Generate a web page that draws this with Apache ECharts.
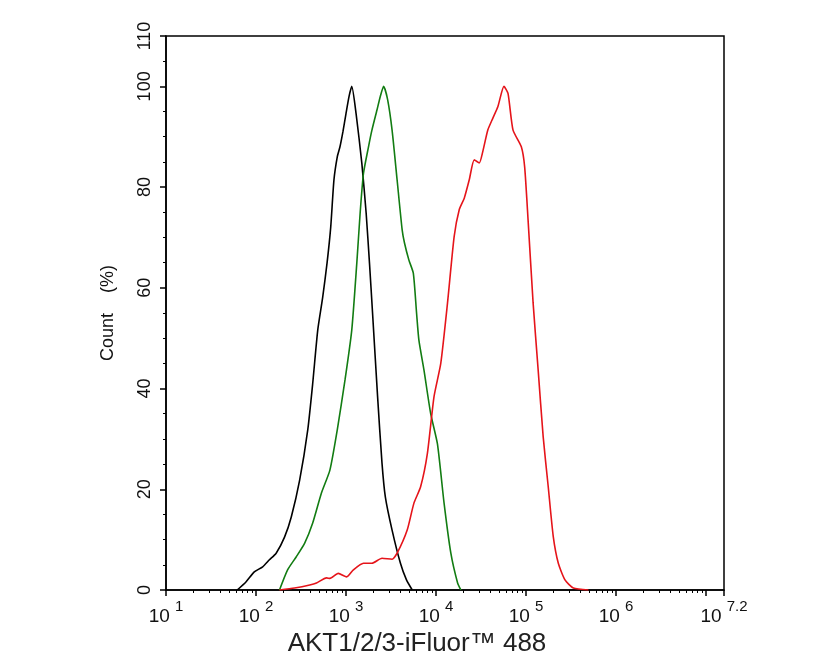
<!DOCTYPE html>
<html>
<head>
    <meta charset="utf-8">
    <title>AKT1/2/3 flow histogram</title>
    <script src="https://cdn.jsdelivr.net/npm/echarts@6/dist/echarts.min.js"></script>
    <style>
        html, body { margin: 0; padding: 0; background: #fff; }
    </style>
</head>
<body>
    <div id="main" style="width: 835px;height:668px;"></div>
    <script type="text/javascript">
        // x values are log10 of fluorescence intensity, y is count (%)
        var blackX = [1.791, 1.888, 1.981, 2.074, 2.149, 2.224, 2.317, 2.392, 2.485, 2.575, 2.630, 2.686, 2.740, 2.790, 2.830, 2.866, 2.903, 2.933, 2.966, 3.000, 3.034, 3.064, 3.112, 3.176, 3.224, 3.261, 3.295, 3.351, 3.400, 3.437, 3.512, 3.605, 3.672, 3.736];
        var blackY = [0, 1.6, 3.6, 4.6, 6, 7.3, 10.5, 14.5, 21.8, 31.8, 41, 51.6, 58, 65, 72, 81.4, 86, 88, 91, 94.6, 98, 100, 94.6, 84.7, 74.8, 64.9, 55, 38.4, 25.2, 18.5, 11.9, 5.3, 2, 0];

        var greenX = [2.261, 2.351, 2.448, 2.541, 2.630, 2.728, 2.821, 2.903, 2.989, 3.064, 3.120, 3.157, 3.194, 3.250, 3.288, 3.344, 3.381, 3.418, 3.463, 3.512, 3.568, 3.624, 3.650, 3.699, 3.748, 3.784, 3.810, 3.866, 3.941, 4.016, 4.090, 4.165, 4.240, 4.277];
        var greenY = [0, 4, 6.6, 9.3, 13.3, 19.3, 23.8, 31.8, 41.7, 51.6, 64.9, 74.8, 82.7, 88, 91.3, 95.3, 98, 100, 97.3, 91.3, 81.4, 71.5, 68.9, 65.5, 62.9, 55, 49.6, 43.7, 35, 29, 17.2, 7.3, 1.4, 0];

        var redX = [2.261, 2.429, 2.597, 2.672, 2.784, 2.821, 2.914, 3.008, 3.082, 3.194, 3.288, 3.400, 3.512, 3.568, 3.680, 3.754, 3.829, 3.904, 3.978, 4.053, 4.128, 4.202, 4.258, 4.314, 4.369, 4.425, 4.481, 4.519, 4.575, 4.632, 4.688, 4.755, 4.800, 4.856, 4.948, 4.985, 5.023, 5.079, 5.135, 5.191, 5.247, 5.303, 5.359, 5.433, 5.526, 5.694];
        var redY = [0, 0.4, 1, 1.4, 2.4, 2.3, 3.3, 2.6, 4, 5.3, 5.3, 6.3, 6.1, 7.3, 11.9, 17.2, 20.5, 27.1, 38.4, 45, 57, 70.2, 75.5, 77.8, 81.4, 85.4, 84.8, 87, 91.3, 93.7, 96, 100, 98.6, 91.3, 88, 84, 73.5, 57, 43.7, 30.4, 20.5, 10.6, 5.3, 2, 0.4, 0];

        var xMajorTicks = [1, 2, 3, 4, 5, 6, 7, 7.2];
        var xLabelValues = [1, 2, 3, 4, 5, 6, 7.2];
        var yMajorTicks = [0, 20, 40, 60, 80, 100, 110];
        var yMinorTicks = [5, 10, 15, 25, 30, 35, 45, 50, 55, 65, 70, 75, 85, 90, 95, 105];

        // minor log ticks: 2..9 x 10^n inside the axis range
        var xMinorTicks = [];
        for (var n = 1; n < 8; n++) {
            for (var k = 2; k < 10; k++) {
                var v = n + Math.log10(k);
                if (v < 7.2) xMinorTicks.push(v);
            }
        }

        function pairs(xs, ys) {
            return xs.map(function (x, i) { return [x, ys[i]]; });
        }

        var font = 'Liberation Sans, Arial, Helvetica, sans-serif';

        var myChart = echarts.init(document.getElementById('main'));

        var option = {
            backgroundColor: '#fff',
            animation: false,
            grid: {
                left: 166,
                right: 111,
                top: 36,
                bottom: 78,
                show: true,
                borderColor: '#000',
                borderWidth: 1.5,
                containLabel: false,
                outerBoundsMode: 'none'
            },
            xAxis: [{
                type: 'value',
                min: 1,
                max: 7.2,
                name: 'AKT1/2/3-iFluor\u2122 488',
                nameLocation: 'middle',
                nameGap: 37,
                nameTextStyle: {
                    fontFamily: font,
                    fontSize: 26,
                    color: '#222',
                    padding: [0, 56, 0, 0]
                },
                axisLine: { show: true, onZero: false, lineStyle: { color: '#000', width: 1.5 } },
                axisTick: { show: true, length: 6, customValues: xMajorTicks, lineStyle: { color: '#000', width: 1.5 } },
                axisLabel: {
                    customValues: xLabelValues,
                    margin: 9,
                    formatter: function (v) {
                        var e = Math.round(v * 10) / 10;
                        return '{b|10}{s|' + e + '}';
                    },
                    rich: {
                        b: { fontFamily: font, fontSize: 19, color: '#111', lineHeight: 27, verticalAlign: 'bottom' },
                        s: { fontFamily: font, fontSize: 15, color: '#111', lineHeight: 17, verticalAlign: 'top', padding: [0, 0, 0, 5] }
                    }
                },
                splitLine: { show: false }
            }, {
                type: 'value',
                min: 1,
                max: 7.2,
                position: 'bottom',
                axisLine: { show: false },
                axisTick: { show: true, length: 3, customValues: xMinorTicks, lineStyle: { color: '#000', width: 1 } },
                axisLabel: { show: false },
                splitLine: { show: false }
            }],
            yAxis: [{
                type: 'value',
                min: 0,
                max: 110,
                name: 'Count    (%)',
                nameLocation: 'middle',
                nameGap: 49,
                nameTextStyle: { fontFamily: font, fontSize: 18, color: '#111' },
                axisLine: { show: true, onZero: false, lineStyle: { color: '#000', width: 1.5 } },
                axisTick: { show: true, length: 6, customValues: yMajorTicks, lineStyle: { color: '#000', width: 1.5 } },
                axisLabel: {
                    customValues: yMajorTicks,
                    rotate: 90,
                    margin: 12,
                    fontFamily: font,
                    fontSize: 18,
                    color: '#111'
                },
                splitLine: { show: false }
            }, {
                type: 'value',
                min: 0,
                max: 110,
                position: 'left',
                axisLine: { show: false },
                axisTick: { show: true, length: 3, customValues: yMinorTicks, lineStyle: { color: '#000', width: 1 } },
                axisLabel: { show: false },
                splitLine: { show: false }
            }],
            series: [{
                name: 'black',
                type: 'line',
                data: pairs(blackX, blackY),
                showSymbol: false,
                smooth: 0.2,
                lineStyle: { color: '#000', width: 1.6 }
            }, {
                name: 'green',
                type: 'line',
                data: pairs(greenX, greenY),
                showSymbol: false,
                smooth: 0.2,
                lineStyle: { color: '#127c12', width: 1.6 }
            }, {
                name: 'red',
                type: 'line',
                data: pairs(redX, redY),
                showSymbol: false,
                smooth: 0.2,
                lineStyle: { color: '#e5141a', width: 1.6 }
            }]
        };

        myChart.setOption(option);
    </script>
</body>
</html>
